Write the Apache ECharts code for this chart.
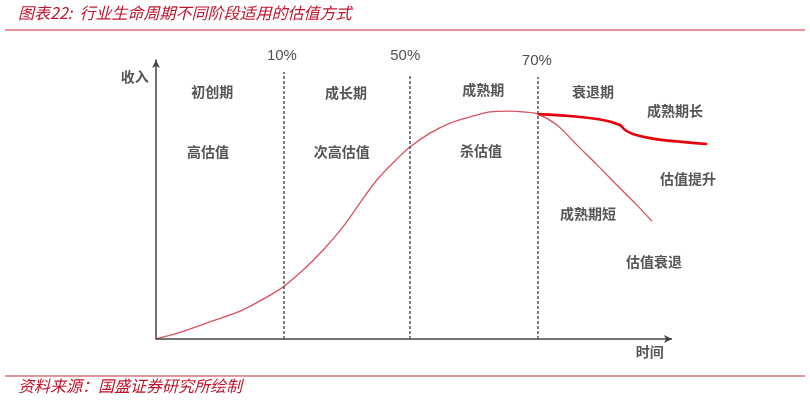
<!DOCTYPE html>
<html>
<head>
<meta charset="utf-8">
<script src="https://cdn.jsdelivr.net/npm/echarts@6/dist/echarts.min.js"></script>
<style>
  html, body { margin: 0; padding: 0; background: #fff; }
  #chart { width: 810px; height: 401px; }
</style>
</head>
<body>
<div id="chart"></div>
<script>
// 行业生命周期曲线 (x: 时间 0-100, y: 收入 0-100)
let lifeX = [0, 5.6, 11.0, 16.3, 20.5, 24.6, 28.5, 32.4, 36.2, 39.5, 42.8, 45.9, 49.2, 53.1, 57.0, 60.9, 64.7, 68.6, 71.1, 74.0, 77.7, 81.6, 85.5, 89.3, 93.2, 96.1]
let lifeY = [0, 2.9, 6.5, 10.0, 14.0, 18.6, 24.7, 31.9, 40.1, 48.7, 57.0, 63.1, 68.8, 73.8, 77.4, 79.6, 81.4, 81.7, 81.4, 80.6, 76.7, 69.5, 62.4, 55.2, 48.0, 42.3]

// 成熟期长 分支
let longX = [74.0, 80.2, 86.6, 89.9, 90.9, 92.4, 95.7, 99.6, 106.8]
let longY = [80.6, 79.9, 78.5, 76.7, 74.9, 73.5, 72.0, 71.0, 69.9]

// 阶段分界线
let stageX = [24.8, 49.2, 74.0]
let stageTop = [95.7, 94.6, 93.9]
let stageLabels = ["10%", "50%", "70%"]
let stageLabelX = [24.4, 48.3, 73.8]
let stageLabelY = [101.4, 101.4, 99.6]

// 文字注释
let noteText = ["初创期", "成长期", "成熟期", "衰退期", "高估值", "次高估值", "杀估值", "成熟期长", "估值提升", "成熟期短", "估值衰退", "收入", "时间"]
let noteX = [10.9, 36.8, 63.4, 84.7, 10.1, 36.0, 63.0, 100.6, 103.1, 83.7, 96.5, -4.1, 95.7]
let noteY = [88.5, 88.2, 89.2, 88.5, 67.0, 67.0, 67.4, 81.7, 57.3, 44.8, 27.6, 93.9, -4.7]

let chart = echarts.init(document.getElementById("chart"))

let zip = function (xs, ys) {
    return xs.map(function (x, i) { return [x, ys[i]] })
}

let cjk = '"Noto Sans CJK SC", sans-serif'
let darkRed = "#c0142a"
let axisColor = "#444"

let option = {
    animation: false,
    backgroundColor: "#fff",
    // x: 0-110 -> 156..723.6 px, y: 0-100 -> 339..60 px
    grid: { left: 156, top: 60, width: 567.6, height: 279 },
    xAxis: {
        type: "value", min: 0, max: 110,
        axisLine: { show: false },
        axisTick: { show: false }, axisLabel: { show: false }, splitLine: { show: false }
    },
    yAxis: {
        type: "value", min: 0, max: 100,
        axisLine: { show: true, symbol: ["none", "arrow"], symbolSize: [6, 8], lineStyle: { color: axisColor, width: 1.5 } },
        axisTick: { show: false }, axisLabel: { show: false }, splitLine: { show: false }
    },
    graphic: [
        {
            type: "text", left: 18, top: 5,
            style: { text: "图表22:  行业生命周期不同阶段适用的估值方式", fill: darkRed, font: "italic 16px " + cjk }
        },
        { type: "line", shape: { x1: 5, y1: 30, x2: 805, y2: 30 }, style: { stroke: "#d42a35", lineWidth: 1.2 } },
        { type: "line", shape: { x1: 5, y1: 376, x2: 805, y2: 376 }, style: { stroke: "#d42a35", lineWidth: 1.2 } },
        {
            type: "text", left: 18, top: 378,
            style: { text: "资料来源：国盛证券研究所绘制", fill: darkRed, font: "italic 16px " + cjk }
        }
    ],
    series: [
        {
            type: "line",
            data: zip(lifeX, lifeY),
            smooth: 0.3,
            symbol: "none",
            clip: false,
            lineStyle: { color: "#d9535e", width: 1.3 },
            markLine: {
                silent: true,
                symbol: "none",
                label: { show: false },
                lineStyle: { color: "#555", type: [3, 2], width: 1.5 },
                data: stageX.map(function (x, i) {
                    return [{ coord: [x, 0] }, { coord: [x, stageTop[i]] }]
                })
            }
        },
        {
            type: "line",
            data: zip(longX, longY),
            smooth: 0.3,
            symbol: "none",
            clip: false,
            lineStyle: { color: "#e8000b", width: 2.6 },
            // 时间轴
            markLine: {
                silent: true,
                symbol: ["none", "arrow"],
                symbolSize: [6, 8],
                label: { show: false },
                lineStyle: { color: axisColor, type: "solid", width: 1.5 },
                data: [[{ coord: [0, 0] }, { coord: [100, 0] }]]
            }
        },
        {
            type: "scatter",
            symbolSize: 0,
            clip: false,
            data: stageLabels.map(function (t, i) { return { value: [stageLabelX[i], stageLabelY[i]], name: t } }),
            label: {
                show: true, position: "inside", formatter: "{b}",
                color: "#222", fontSize: 15, fontFamily: '"Liberation Sans", Arial, sans-serif'
            }
        },
        {
            type: "scatter",
            symbolSize: 0,
            clip: false,
            data: noteText.map(function (t, i) { return { value: [noteX[i], noteY[i]], name: t } }),
            label: {
                show: true, position: "inside", formatter: "{b}",
                color: "#2a2a2a", fontSize: 14, fontWeight: "bold", fontFamily: cjk
            }
        }
    ]
}

chart.setOption(option)
</script>
</body>
</html>
